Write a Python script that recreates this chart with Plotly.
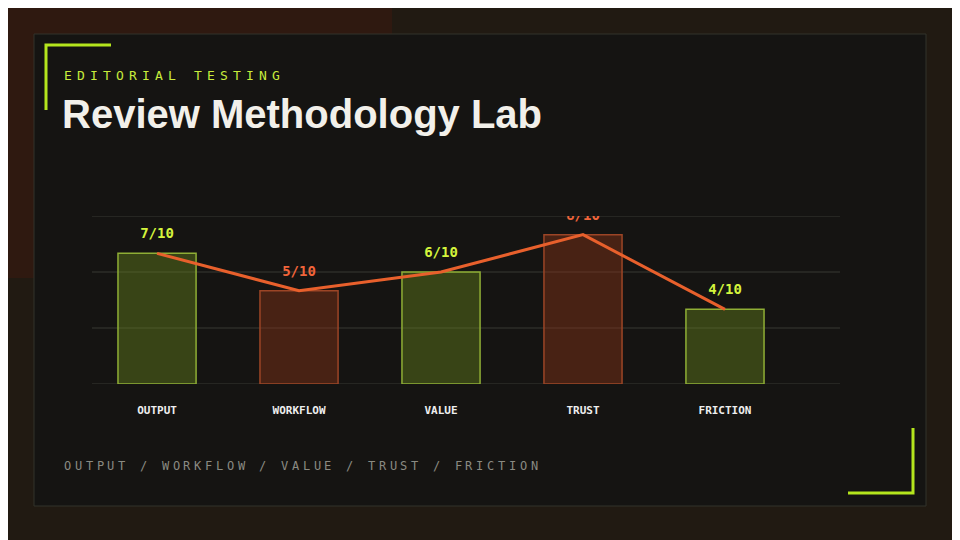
import plotly.graph_objects as go

categories = ["OUTPUT", "WORKFLOW", "VALUE", "TRUST", "FRICTION"]
scores = [7, 5, 6, 8, 4]
score_labels = ["7/10", "5/10", "6/10", "8/10", "4/10"]
tones = ["green", "orange", "green", "orange", "green"]
eyebrow = "EDITORIAL TESTING"
footer = "OUTPUT / WORKFLOW / VALUE / TRUST / FRICTION"
grid_values = [0, 3, 6, 9]

W, H = 960, 540
OFF = 8  # page offset compensation
GREEN_FILL = "rgba(110,140,30,0.40)"
GREEN_LINE = "#8fae35"
ORANGE_FILL = "rgba(150,55,25,0.40)"
ORANGE_LINE = "#9c4526"
GREEN_TXT = "#d4f53c"
ORANGE_TXT = "#f0643a"


def px(v):
    return (v - OFF) / W


def py(v):
    return 1 - (v - OFF) / H


x = list(range(len(categories)))
fill = [GREEN_FILL if t == "green" else ORANGE_FILL for t in tones]
edge = [GREEN_LINE if t == "green" else ORANGE_LINE for t in tones]
tcol = [GREEN_TXT if t == "green" else ORANGE_TXT for t in tones]

fig = go.Figure()
fig.add_bar(x=x, y=scores, width=0.55, marker=dict(color=fill, line=dict(color=edge, width=1.5)),
            hoverinfo="skip")
fig.add_scatter(x=x, y=scores, mode="lines", line=dict(color="#e8602c", width=3), hoverinfo="skip")
fig.add_scatter(x=x, y=[s + 1.0 for s in scores], mode="text",
                text=[f"<b>{t}</b>" for t in score_labels],
                textfont=dict(family="DejaVu Sans Mono", size=14, color=tcol), hoverinfo="skip")

shapes = [
    dict(type="rect", xref="paper", yref="paper", x0=-0.02, x1=1.02, y0=-0.02, y1=1.02,
         fillcolor="#211a12", line=dict(width=0), layer="below"),
    dict(type="rect", xref="paper", yref="paper", x0=-0.02, x1=0.4, y0=0.5, y1=1.02,
         fillcolor="rgba(70,25,15,0.4)", line=dict(width=0), layer="below"),
    dict(type="rect", xref="paper", yref="paper", x0=px(34), x1=px(926), y0=py(506), y1=py(34),
         fillcolor="#151412", line=dict(color="#33332a", width=1), layer="below"),
    dict(type="path", xref="paper", yref="paper",
         path=f"M {px(111)} {py(45)} L {px(46)} {py(45)} L {px(46)} {py(110)}",
         line=dict(color="#b5e61d", width=3)),
    dict(type="path", xref="paper", yref="paper",
         path=f"M {px(848)} {py(493)} L {px(913)} {py(493)} L {px(913)} {py(428)}",
         line=dict(color="#b5e61d", width=3)),
]
for g in grid_values:
    shapes.append(dict(type="line", xref="paper", yref="y", x0=px(92), x1=px(840), y0=g, y1=g,
                       line=dict(color="#2c2c28", width=1.5), layer="below"))

annotations = [
    dict(text="<b>Review Methodology Lab</b>", xref="paper", yref="paper", x=px(60), y=py(114),
         xanchor="left", yanchor="middle", showarrow=False,
         font=dict(family="Liberation Sans", size=40, color="#f2f0ea")),
]
for i, ch in enumerate(eyebrow):
    if ch != " ":
        annotations.append(dict(text=ch, xref="paper", yref="paper", x=px(62 + i * 13.0), y=py(75),
                                xanchor="left", yanchor="middle", showarrow=False,
                                font=dict(family="DejaVu Sans Mono", size=13, color="#c8ec3c")))
for i, ch in enumerate(footer):
    if ch != " ":
        annotations.append(dict(text=ch, xref="paper", yref="paper", x=px(62 + i * 10.85), y=py(466),
                                xanchor="left", yanchor="middle", showarrow=False,
                                font=dict(family="DejaVu Sans Mono", size=12, color="#8a8a82")))

fig.update_layout(
    width=W, height=H, margin=dict(l=0, r=0, t=0, b=0),
    paper_bgcolor="#211a12", plot_bgcolor="rgba(0,0,0,0)", showlegend=False,
    shapes=shapes, annotations=annotations,
    xaxis=dict(domain=[px(92), px(840)], range=[-0.458, 4.81], tickvals=x,
               ticktext=[f"<b>{c}</b>" for c in categories],
               tickfont=dict(family="DejaVu Sans Mono", size=11, color="#eeeeee"),
               showgrid=False, zeroline=False, showline=False, ticks="", ticklabelstandoff=18),
    yaxis=dict(domain=[py(384), py(216)], range=[0, 9], showticklabels=False,
               showgrid=False, zeroline=False, showline=False),
)
fig.write_html("out.html")
